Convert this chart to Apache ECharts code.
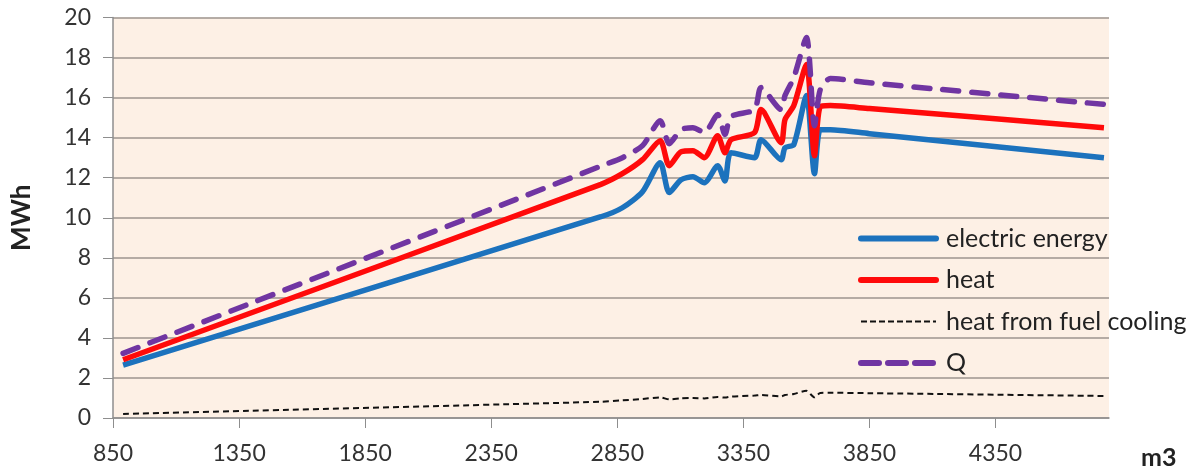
<!DOCTYPE html>
<html>
<head>
<meta charset="utf-8">
<script src="https://cdn.jsdelivr.net/npm/echarts@6/dist/echarts.min.js"></script>
<style>
html,body{margin:0;padding:0;background:#fff;}
#chart{width:1188px;height:470px;}
</style>
</head>
<body>
<div id="chart"></div>
<script>
var xValues = [890, 2785, 2870, 2950, 3020, 3056, 3103, 3150, 3195, 3248, 3277, 3301, 3394, 3420, 3500, 3515, 3550, 3600, 3632, 3655, 3695, 3850, 4780];
var electricEnergy = [2.64, 10.05, 10.5, 11.3, 12.75, 11.26, 11.9, 12.05, 11.75, 12.6, 11.84, 13.25, 13.0, 13.9, 12.9, 13.5, 13.65, 16.1, 12.2, 14.4, 14.4, 14.2, 13.0];
var heat = [2.91, 11.67, 12.2, 12.9, 13.85, 12.6, 13.3, 13.35, 13.0, 14.1, 13.25, 13.9, 14.25, 15.4, 13.75, 14.9, 15.6, 17.65, 13.1, 15.55, 15.6, 15.45, 14.5];
var fuelCooling = [0.2, 0.81, 0.88, 0.95, 1.03, 0.93, 0.98, 1.0, 0.98, 1.05, 1.02, 1.07, 1.12, 1.15, 1.08, 1.15, 1.2, 1.36, 1.03, 1.25, 1.26, 1.24, 1.1];
var qValues = [3.23, 12.58, 13.0, 13.6, 14.85, 13.7, 14.4, 14.5, 14.25, 15.15, 14.16, 15.05, 15.4, 16.5, 15.4, 16.1, 17.0, 19.0, 14.6, 16.4, 16.95, 16.74, 15.66];
var seriesNames = ['electric energy', 'heat', 'heat from fuel cooling', 'Q'];
var xTickMin = 850, xTickMax = 4800, xTickStep = 500;
var yTickMin = 0, yTickMax = 20, yTickStep = 2;

function pairs(ys) { return xValues.map(function (x, i) { return [x, ys[i]]; }); }

var FONT = 'Lato';
var BLUE = '#1C72BD', RED = '#FF0A0A', BLACK = '#111', PURPLE = '#7035A2';
var chart = echarts.init(document.getElementById('chart'));
chart.setOption({
  animation: false,
  textStyle: { fontFamily: FONT },
  grid: { left: 113, right: 79, top: 17.5, bottom: 51, show: true, backgroundColor: '#FDF0E5', borderWidth: 0 },
  legend: {
    orient: 'vertical', left: 853, top: 221,
    itemWidth: 75, itemHeight: 14, itemGap: 16.5,
    itemStyle: { opacity: 0 },
    textStyle: { fontFamily: FONT, fontSize: 25, color: '#222', padding: [0, 0, 0, 5] },
    data: [
      { name: seriesNames[0], lineStyle: { width: 6, color: BLUE, cap: 'round' } },
      { name: seriesNames[1], lineStyle: { width: 6, color: RED, cap: 'round' } },
      { name: seriesNames[2], lineStyle: { width: 2, color: BLACK, type: [6, 3] } },
      { name: seriesNames[3], lineStyle: { width: 6, color: PURPLE, type: [18, 9], cap: 'round' } }
    ]
  },
  xAxis: {
    type: 'value', min: xTickMin, max: xTickMax, interval: xTickStep,
    name: 'm3', nameLocation: 'end', nameGap: 32,
    nameTextStyle: { fontFamily: FONT, fontSize: 25, fontWeight: 'bold', color: '#222', verticalAlign: 'top', padding: [27, 0, 0, 0] },
    axisLine: { show: true, lineStyle: { color: '#8e8e8e', width: 1.5 } },
    axisTick: { show: true, inside: false, length: 10, lineStyle: { color: '#8e8e8e' } },
    axisLabel: { showMaxLabel: false, margin: 24, fontFamily: FONT, fontSize: 23, color: '#333',
      formatter: function (v) { return String(v); } },
    splitLine: { show: false }
  },
  yAxis: {
    type: 'value', min: yTickMin, max: yTickMax, interval: yTickStep,
    name: 'MWh', nameLocation: 'middle', nameGap: 78,
    nameTextStyle: { fontFamily: FONT, fontSize: 26, fontWeight: 'bold', color: '#222' },
    axisLine: { show: true, lineStyle: { color: '#8e8e8e', width: 1.5 } },
    axisTick: { show: true, inside: false, length: 10, lineStyle: { color: '#8e8e8e' } },
    axisLabel: { margin: 22, fontFamily: FONT, fontSize: 23, color: '#333' },
    splitLine: { show: true, lineStyle: { color: '#9c948e', width: 1.5 } }
  },
  series: [
    { name: seriesNames[0], type: 'line', data: pairs(electricEnergy), symbol: 'none', smooth: 0.25,
      lineStyle: { color: BLUE, width: 5.5 }, itemStyle: { color: BLUE } },
    { name: seriesNames[1], type: 'line', data: pairs(heat), symbol: 'none', smooth: 0.25,
      lineStyle: { color: RED, width: 5.5 }, itemStyle: { color: RED } },
    { name: seriesNames[2], type: 'line', data: pairs(fuelCooling), symbol: 'none', smooth: 0.25,
      lineStyle: { color: BLACK, width: 2, type: [6, 4] }, itemStyle: { color: BLACK } },
    { name: seriesNames[3], type: 'line', data: pairs(qValues), symbol: 'none', smooth: 0.25,
      lineStyle: { color: PURPLE, width: 5.5, type: [16, 13], cap: 'round' }, itemStyle: { color: PURPLE } }
  ]
});
</script>
</body>
</html>
